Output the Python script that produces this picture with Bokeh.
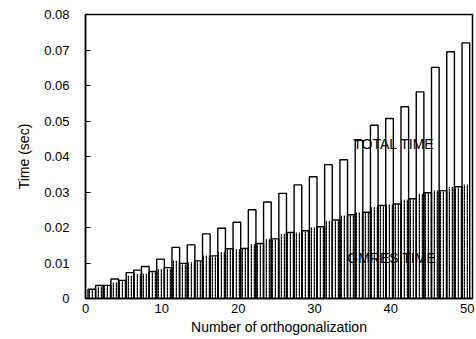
from bokeh.plotting import figure
from bokeh.models import ColumnDataSource, Label, FixedTicker, Range1d
from bokeh.transform import dodge
from bokeh.embed import file_html
from bokeh.resources import INLINE

# ---- data ----
n_orth = list(range(1, 51))
total_time = [0.0026, 0.0037, 0.0037, 0.0055, 0.0051, 0.0073, 0.0080, 0.0090, 0.0076, 0.0111,
              0.0087, 0.0144, 0.0099, 0.0151, 0.0106, 0.0182, 0.0120, 0.0198, 0.0140, 0.0215,
              0.0141, 0.0250, 0.0155, 0.0272, 0.0168, 0.0296, 0.0186, 0.0320, 0.0191, 0.0343,
              0.0202, 0.0377, 0.0221, 0.0391, 0.0236, 0.0445, 0.0243, 0.0488, 0.0262, 0.0507,
              0.0266, 0.0540, 0.0281, 0.0582, 0.0298, 0.0651, 0.0304, 0.0695, 0.0315, 0.0720]
gmres_time = [0.0024, 0.0034, 0.0035, 0.0045, 0.0049, 0.0064, 0.0069, 0.0070, 0.0074, 0.0083,
              0.0084, 0.0106, 0.0096, 0.0102, 0.0104, 0.0121, 0.0118, 0.0130, 0.0138, 0.0139,
              0.0140, 0.0153, 0.0153, 0.0168, 0.0166, 0.0182, 0.0184, 0.0186, 0.0189, 0.0201,
              0.0200, 0.0219, 0.0219, 0.0234, 0.0234, 0.0243, 0.0241, 0.0257, 0.0260, 0.0265,
              0.0264, 0.0278, 0.0279, 0.0295, 0.0296, 0.0304, 0.0302, 0.0314, 0.0313, 0.0321]
x_ticks = [0, 10, 20, 30, 40, 50]
y_ticks = [0, 0.01, 0.02, 0.03, 0.04, 0.05, 0.06, 0.07, 0.08]
y_tick_labels = ["0", "0.01", "0.02", "0.03", "0.04", "0.05", "0.06", "0.07", "0.08"]

src = ColumnDataSource(dict(n=n_orth, total=total_time, gmres=gmres_time))

FONT = "Liberation Sans"

p = figure(width=476, height=339, output_backend="svg", toolbar_location=None,
           x_range=Range1d(0, 50.7), y_range=Range1d(0, 0.08),
           min_border_left=85, min_border_right=4, min_border_top=14, min_border_bottom=41)
p.background_fill_color = "white"
p.border_fill_color = "white"
p.grid.visible = False
p.outline_line_color = "black"
p.outline_line_width = 1.5

xpos = dodge("n", -0.17, range=p.x_range)

# total time bars (white)
p.vbar(x=xpos, width=1.0, top="total", bottom=0, source=src,
       fill_color="white", line_color=None)
# GMRES part (dotted)
p.vbar(x=xpos, width=1.0, top="gmres", bottom=0, source=src,
       fill_color="white", line_color=None,
       hatch_pattern=":", hatch_color="black", hatch_scale=3.0, hatch_weight=1.5)
# outlines of the total bars
p.vbar(x=xpos, width=1.0, top="total", bottom=0, source=src,
       fill_color=None, line_color="black", line_width=1.4)

# axes
p.xaxis.ticker = FixedTicker(ticks=x_ticks)
p.yaxis.ticker = FixedTicker(ticks=y_ticks)
p.yaxis.major_label_overrides = {t: l for t, l in zip(y_ticks, y_tick_labels)}
for ax in (p.xaxis, p.yaxis):
    ax.axis_line_color = "black"
    ax.axis_line_width = 1.5
    ax.minor_tick_line_color = None
    ax.major_label_text_font = FONT
    ax.major_label_text_font_size = "13px"
    ax.major_label_text_color = "black"
    ax.axis_label_text_font = FONT
    ax.axis_label_text_font_size = "14px"
    ax.axis_label_text_font_style = "normal"
    ax.axis_label_text_color = "black"
p.xaxis.major_tick_in = 0
p.xaxis.major_tick_out = 0
p.xaxis.major_label_standoff = 5
p.xaxis.axis_label = "Number of orthogonalization"
p.xaxis.axis_label_standoff = 3
p.yaxis.major_tick_in = 5
p.yaxis.major_tick_out = 0
p.yaxis.major_tick_line_color = "black"
p.yaxis.major_tick_line_width = 1.2
p.yaxis.major_label_standoff = 16
p.yaxis.axis_label = "Time (sec)"
p.yaxis.axis_label_standoff = 9

p.add_layout(Label(x=35.08, y=0.0436, text="TOTAL TIME", text_font=FONT,
                   text_font_size="14px", text_color="black", text_baseline="alphabetic"))
p.add_layout(Label(x=34.3, y=0.01148, text="GMRES TIME", text_font=FONT,
                   text_font_size="14px", text_color="black", text_baseline="alphabetic"))

open("out.html", "w").write(file_html(p, INLINE))
